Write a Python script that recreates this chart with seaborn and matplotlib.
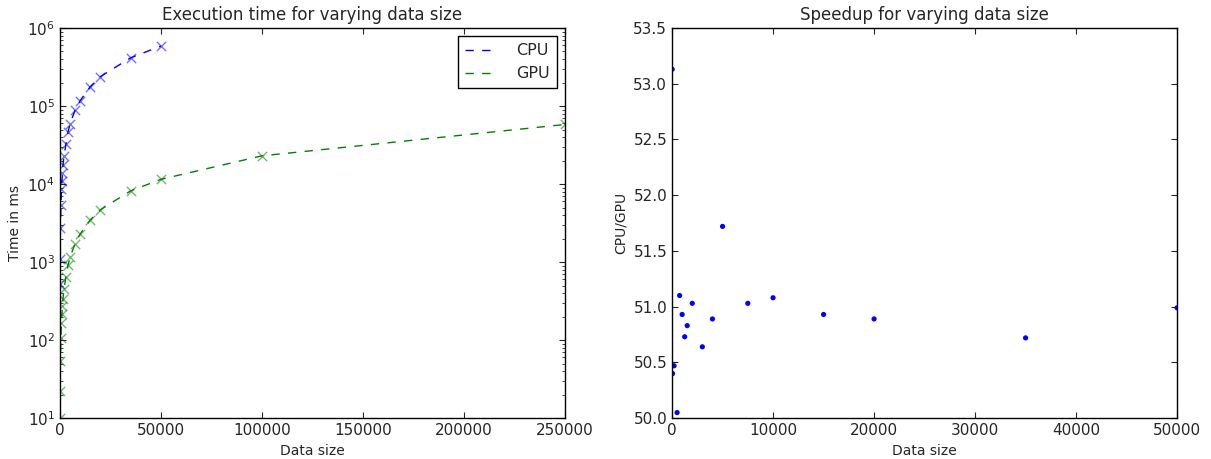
import seaborn as sns
import matplotlib.pyplot as plt
import pandas as pd
import numpy as np
from matplotlib.ticker import FormatStrFormatter

# データ
sizes = [10, 50, 200, 500, 750, 1000, 1250, 1500, 2000, 3000, 4000, 5000,
         7500, 10000, 15000, 20000, 35000, 50000, 100000, 250000]
gpu_ms = [10, 22, 54, 108, 168, 215, 276, 340, 455, 645, 910, 1150,
          1730, 2290, 3470, 4680, 8180, 11500, 23000, 58000]
cpu_ms = [531, 1110, 2750, 5400, 8600, 11000, 14000, 17300, 23200, 32700, 46300, 59500,
          88500, 117000, 177000, 238000, 415000, 587000]
speedup = [53.13, 50.40, 50.47, 50.05, 51.10, 50.93, 50.73, 50.83, 51.03, 50.64, 50.89, 51.72,
           51.03, 51.08, 50.93, 50.89, 50.72, 50.99]

cpu = pd.DataFrame({'size': sizes[:len(cpu_ms)], 'time': cpu_ms})
gpu = pd.DataFrame({'size': sizes, 'time': gpu_ms})
sp = pd.DataFrame({'size': sizes[:len(speedup)], 'speedup': speedup})

sns.set_style('ticks')
plt.rcParams['font.family'] = ['DejaVu Sans']
plt.rcParams['font.size'] = 10
plt.rcParams['xtick.direction'] = 'in'
plt.rcParams['ytick.direction'] = 'in'
plt.rcParams['xtick.top'] = True
plt.rcParams['ytick.right'] = True
plt.rcParams['xtick.major.size'] = 4
plt.rcParams['ytick.major.size'] = 4
plt.rcParams['xtick.minor.size'] = 2
plt.rcParams['ytick.minor.size'] = 2
plt.rcParams['xtick.labelsize'] = 11
plt.rcParams['ytick.labelsize'] = 11
plt.rcParams['axes.edgecolor'] = 'black'
plt.rcParams['axes.linewidth'] = 1.0

fig, (ax1, ax2) = plt.subplots(1, 2, figsize=(12.11, 4.59), dpi=100)
fig.subplots_adjust(left=0.0495, right=0.972, bottom=0.089, top=0.939, wspace=0.212)

dash = (0, (6, 6))

# 実行時間（左）
sns.lineplot(data=cpu, x='size', y='time', ax=ax1, color='b', linestyle=dash, label='CPU', lw=1)
sns.lineplot(data=gpu, x='size', y='time', ax=ax1, color='g', linestyle=dash, label='GPU', lw=1)
sns.scatterplot(data=cpu, x='size', y='time', ax=ax1, color='b', marker='x', s=45, alpha=0.55,
                linewidth=1, legend=False)
sns.scatterplot(data=gpu, x='size', y='time', ax=ax1, color='g', marker='x', s=45, alpha=0.55,
                linewidth=1, legend=False)
ax1.set_yscale('log')
ax1.set_xlim(0, 250000)
ax1.set_ylim(10, 1e6)
ax1.set_xticks([0, 50000, 100000, 150000, 200000, 250000])
ax1.set_title('Execution time for varying data size', fontsize=12)
ax1.set_xlabel('Data size')
ax1.set_ylabel('Time in ms')
leg = ax1.legend(loc='upper right', fontsize=11.5, fancybox=False, edgecolor='black',
                 framealpha=1, handlelength=1.8, borderpad=0.45, handletextpad=1.4)
leg.get_frame().set_linewidth(1.0)

# 速度向上率（右）
sns.scatterplot(data=sp, x='size', y='speedup', ax=ax2, color='b', s=14, edgecolor='none')
ax2.set_xlim(0, 50000)
ax2.set_ylim(50.0, 53.5)
ax2.set_xticks([0, 10000, 20000, 30000, 40000, 50000])
ax2.set_yticks(np.arange(50.0, 53.51, 0.5))
ax2.yaxis.set_major_formatter(FormatStrFormatter('%.1f'))
ax2.set_title('Speedup for varying data size', fontsize=12)
ax2.set_xlabel('Data size')
ax2.set_ylabel('CPU/GPU')

plt.savefig('out.png', dpi=100)
